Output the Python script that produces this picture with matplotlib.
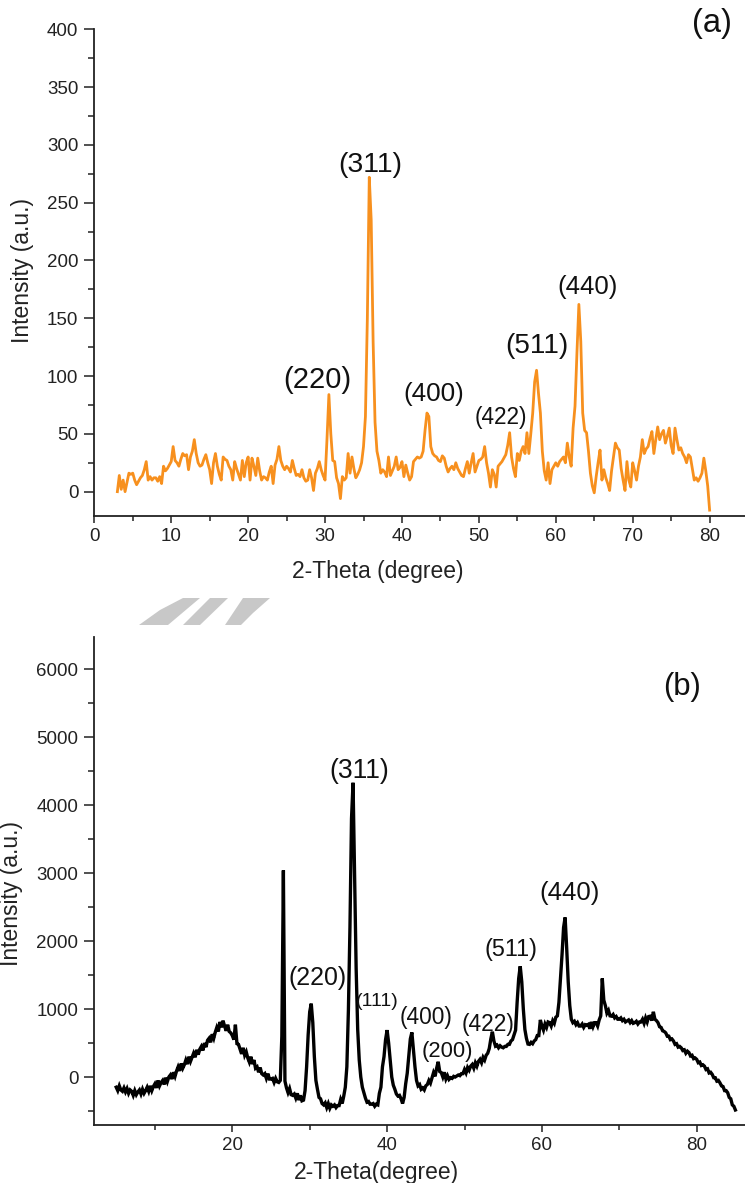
import numpy as np
import matplotlib
matplotlib.use("Agg")
import matplotlib.pyplot as plt
from matplotlib.patches import Polygon
from matplotlib.ticker import MultipleLocator

plt.rcParams['font.family'] = ['Liberation Sans', 'DejaVu Sans']

# ---------------- data: panel (a) ----------------
theta_a_start, theta_a_end = 3.0, 80.0
intensity_a = [
    0, 14, 2, 10,
    0, 8, 16, 15,
    16, 10, 6, 9,
    12, 14, 19, 26,
    10, 13, 10, 12,
    12, 9, 13, 7,
    22, 18, 20, 23,
    26, 39, 27, 25,
    22, 28, 33, 31,
    32, 19, 30, 35,
    45, 33, 25, 22,
    23, 28, 32, 25,
    19, 7, 25, 33,
    22, 15, 10, 30,
    28, 27, 22, 19,
    10, 26, 20, 15,
    10, 27, 13, 25,
    30, 10, 29, 22,
    14, 29, 18, 10,
    13, 12, 10, 17,
    22, 7, 23, 28,
    39, 27, 22, 19,
    22, 20, 17, 27,
    20, 14, 15, 13,
    19, 12, 9, 10,
    19, 12, 1, 16,
    20, 26, 19, 14,
    10, 45, 84, 50,
    27, 26, 12, 7,
    -6, 13, 10, 12,
    33, 16, 30, 20,
    12, 15, 19, 25,
    39, 65, 150, 272,
    235, 130, 60, 35,
    27, 16, 19, 17,
    13, 30, 14, 18,
    22, 30, 19, 21,
    26, 13, 23, 16,
    10, 13, 26, 28,
    30, 29, 30, 35,
    53, 68, 65, 39,
    33, 31, 30, 27,
    26, 31, 29, 22,
    17, 20, 22, 19,
    25, 20, 17, 14,
    13, 20, 26, 16,
    25, 33, 17, 22,
    27, 28, 30, 39,
    25, 16, 4, 19,
    15, 4, 22, 24,
    26, 29, 32, 40,
    51, 30, 20, 13,
    33, 27, 35, 39,
    33, 51, 33, 50,
    68, 95, 105, 85,
    68, 35, 18, 10,
    25, 7, 19, 22,
    25, 22, 26, 28,
    30, 25, 42, 30,
    22, 55, 74, 120,
    162, 130, 68, 53,
    51, 35, 16, 5,
    -1, 13, 25, 36,
    10, 19, 12, 7,
    1, 18, 30, 42,
    38, 36, 20, 10,
    1, 26, 10, 4,
    25, 18, 10, 22,
    30, 45, 33, 37,
    39, 46, 52, 33,
    45, 56, 45, 50,
    53, 42, 48, 55,
    40, 33, 55, 45,
    36, 38, 33, 30,
    25, 32, 30, 20,
    10, 12, 9, 12,
    16, 29, 18, 5,
    -16,
]
theta_a = np.linspace(theta_a_start, theta_a_end, len(intensity_a))

labels_a = ['(220)', '(311)', '(400)', '(422)', '(511)', '(440)', '(a)']
label_a_x = [29.0, 35.9, 44.1, 52.8, 57.6, 64.1, 80.3]
label_a_y = [96.7, 283, 84.2, 64.2, 125.7, 176.8, 404.9]
label_a_size = [21, 20.4, 18.8, 16.3, 20, 18.5, 23.5]

xticks_a = [0, 10, 20, 30, 40, 50, 60, 70, 80]
yticks_a = [0, 50, 100, 150, 200, 250, 300, 350, 400]

# ---------------- data: panel (b) ----------------
theta_b_start, theta_b_end = 5.0, 85.0
intensity_b = [
    -150, -200, -130, -190, -210,
    -160, -220, -170, -240, -190,
    -210, -270, -200, -260, -220,
    -190, -250, -180, -240, -200,
    -150, -210, -130, -200, -140,
    -100, -160, -50, -130, -80,
    -50, -110, -10, -70, 0,
    30, -30, 70, 10, 90,
    150, 90, 200, 130, 180,
    250, 190, 300, 230, 290,
    350, 290, 400, 330, 410,
    450, 390, 500, 440, 540,
    570, 510, 630, 570, 660,
    730, 670, 810, 730, 830,
    750, 680, 770, 670, 650,
    610, 550, 770, 490, 480,
    410, 340, 430, 320, 370,
    280, 220, 300, 190, 250,
    130, 150, 70, 140, 50,
    30, 50, -20, 50, -30,
    -30, -20, -80, -20, -70,
    -80, -50, 600, 3040, -60,
    -160, -230, -170, -260, -270,
    -250, -310, -240, -340, -270,
    -350, -340, -200, 150, 620,
    960, 1080, 800, 300, -50,
    -180, -300, -320, -390, -410,
    -380, -450, -390, -460, -410,
    -430, -410, -450, -420, -420,
    -330, -390, -280, -150, 150,
    985, 2200, 3800, 4330, 3000,
    1600, 700, 250, 0, -150,
    -230, -310, -370, -360, -400,
    -400, -390, -430, -400, -410,
    -240, -150, 150, 300, 550,
    690, 500, 250, 0, -120,
    -180, -250, -280, -270, -320,
    -390, -300, -100, 55, 300,
    560, 657, 400, 150, -50,
    -130, -110, -180, -160, -190,
    -130, -110, -50, -90, -10,
    65, 10, 130, 225, 80,
    65, 0, 70, -30, 20,
    -35, -10, -20, 10, 0,
    15, 30, 20, 50, 50,
    110, 60, 140, 100, 160,
    185, 130, 210, 160, 230,
    260, 210, 290, 250, 320,
    350, 420, 560, 667, 530,
    455, 470, 430, 460, 440,
    430, 450, 450, 480, 480,
    530, 550, 620, 690, 1100,
    1450, 1630, 1400, 1000, 700,
    570, 485, 480, 510, 490,
    530, 550, 610, 610, 840,
    750, 690, 780, 730, 810,
    800, 750, 830, 790, 880,
    900, 1100, 1450, 1800, 2200,
    2348, 1900, 1400, 1050, 850,
    800, 820, 770, 800, 750,
    750, 780, 730, 770, 760,
    775, 710, 810, 740, 800,
    800, 750, 840, 900, 1450,
    1130, 1050, 940, 980, 900,
    895, 920, 870, 890, 850,
    850, 870, 830, 850, 810,
    825, 840, 800, 830, 790,
    800, 820, 780, 810, 810,
    850, 790, 870, 810, 890,
    895, 830, 960, 850, 830,
    800, 740, 730, 680, 670,
    650, 600, 600, 550, 560,
    530, 480, 490, 440, 450,
    430, 390, 400, 350, 380,
    360, 310, 320, 270, 280,
    260, 210, 220, 170, 180,
    160, 110, 120, 60, 70,
    40, -10, -10, -60, -50,
    -85, -130, -140, -200, -200,
    -230, -300, -320, -410, -430,
    -485,
]
theta_b = np.linspace(theta_b_start, theta_b_end, len(intensity_b))

labels_b = ['(220)', '(311)', '(111)', '(400)', '(200)', '(422)', '(511)', '(440)', '(b)']
label_b_x = [31.0, 36.4, 38.7, 45.0, 47.8, 53.1, 56.0, 63.6, 78.1]
label_b_y = [1463, 4500, 1107, 882, 382, 779, 1882, 2713, 5743]
label_b_size = [17.9, 19.1, 14, 16.4, 15.8, 16.4, 16.8, 18.5, 22.4]

xticks_b = [20, 40, 60, 80]
yticks_b = [0, 1000, 2000, 3000, 4000, 5000, 6000]

# ---------------- figure ----------------
W, H = 745, 1183
fig = plt.figure(figsize=(W / 100, H / 100), dpi=100)

def px_axes(left, top, right, bottom):
    return [left / W, 1 - bottom / H, (right - left) / W, (bottom - top) / H]

ax1 = fig.add_axes(px_axes(94.3, 29.3, 745, 515.7))
ax2 = fig.add_axes(px_axes(94.3, 636.7, 745, 1125))

ax1.plot(theta_a, intensity_a, color='#F7901E', lw=2.0, solid_joinstyle='round')
ax2.plot(theta_b, intensity_b, color='black', lw=2.4, solid_joinstyle='miter')

ax1.set_xlim(0, 84.6)
ax1.set_ylim(-20.8, 400)
ax2.set_xlim(2.17, 86.24)
ax2.set_ylim(-706, 6479)

ax1.set_xticks(xticks_a)
ax1.set_yticks(yticks_a)
ax1.xaxis.set_minor_locator(MultipleLocator(5))
ax1.yaxis.set_minor_locator(MultipleLocator(25))
ax2.set_xticks(xticks_b)
ax2.set_yticks(yticks_b)
ax2.xaxis.set_minor_locator(MultipleLocator(10))
ax2.yaxis.set_minor_locator(MultipleLocator(500))

for ax in (ax1, ax2):
    for s in ('top', 'right'):
        ax.spines[s].set_visible(False)
    for s in ('left', 'bottom'):
        ax.spines[s].set_linewidth(1.3)
        ax.spines[s].set_color('#222222')
    ax.tick_params(axis='both', which='both', direction='out', width=1.1,
                   colors='#222222', labelsize=13.5, pad=4)
    ax.tick_params(axis='y', which='major', length=7.5)
    ax.tick_params(axis='y', which='minor', length=4.5)
    ax.tick_params(axis='x', which='major', length=5)
    ax.tick_params(axis='x', which='minor', length=3.5)
    ax.set_ylabel('Intensity (a.u.)', fontsize=16.5, color='#222222')
    ax.yaxis.label.set_va('center')
    ax.xaxis.label.set_va('center')

ax1.set_xlabel('2-Theta (degree)', fontsize=16.5, color='#222222')
ax2.set_xlabel('2-Theta(degree)', fontsize=16.5, color='#222222')
ax1.yaxis.set_label_coords(-0.111, 0.505)
ax2.yaxis.set_label_coords(-0.128, 0.475)
ax1.xaxis.set_label_coords(0.435, -0.115)
ax2.xaxis.set_label_coords(0.434, -0.098)

for t, x, y, s in zip(labels_a, label_a_x, label_a_y, label_a_size):
    ax1.text(x, y, t, fontsize=s, ha='center', va='center', color='#111111')
for t, x, y, s in zip(labels_b, label_b_x, label_b_y, label_b_size):
    ax2.text(x, y, t, fontsize=s, ha='center', va='center', color='#111111')

# faint grey watermark fragments between the panels
marks = [
    [(183, 598), (200, 598), (168, 625), (153, 625), (139, 625), (160, 610)],
    [(210, 598), (228, 598), (200, 625), (183, 625)],
    [(243, 598), (270, 598), (253, 613), (241, 625), (225, 625)],
]
for m in marks:
    pts = [(x / W, 1 - y / H) for x, y in m]
    fig.patches.append(Polygon(pts, closed=True, transform=fig.transFigure,
                               facecolor='#c8c8c8', edgecolor='none'))

fig.savefig('out.png', dpi=100)
